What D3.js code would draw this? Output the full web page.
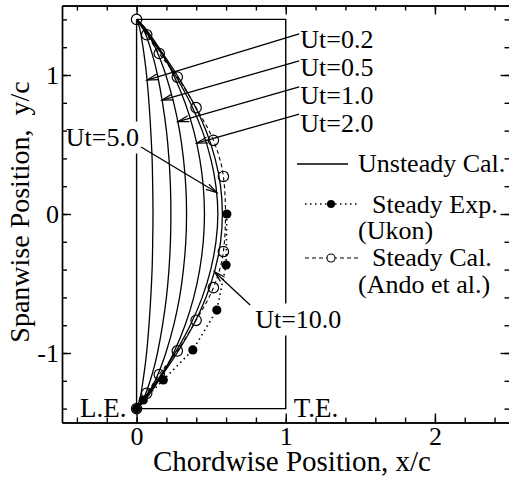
<!DOCTYPE html>
<html>
<head>
<meta charset="utf-8">
<script src="https://cdn.jsdelivr.net/npm/d3@7"></script>
<style>
  body { margin: 0; background: #fff; }
  text { font-family: "Liberation Serif", "Times New Roman", serif; fill: #000; }
</style>
</head>
<body>
<div id="chart-area"></div>
<script>
// spanwise stations (y/c) for the unsteady tip-vortex lines
const spanY = [1.4, 1.35, 1.3, 1.2, 1.1, 1.0, 0.8, 0.6, 0.4, 0.2, 0, -0.2, -0.4, -0.6, -0.8, -1.0, -1.1, -1.2, -1.3, -1.35, -1.4];

// chordwise position x/c of each unsteady line
const xUt02 = [0, 0.017, 0.028, 0.043, 0.056, 0.067, 0.083, 0.095, 0.104, 0.108, 0.110, 0.108, 0.104, 0.095, 0.083, 0.067, 0.056, 0.043, 0.028, 0.017, 0];
const xUt05 = [0, 0.036, 0.058, 0.091, 0.118, 0.140, 0.174, 0.200, 0.217, 0.227, 0.230, 0.227, 0.217, 0.200, 0.174, 0.140, 0.118, 0.091, 0.058, 0.036, 0];
const xUt10 = [0, 0.046, 0.076, 0.124, 0.163, 0.196, 0.249, 0.288, 0.314, 0.330, 0.335, 0.330, 0.314, 0.288, 0.249, 0.196, 0.163, 0.124, 0.076, 0.046, 0];
const xUt20 = [0, 0.048, 0.084, 0.147, 0.201, 0.248, 0.325, 0.383, 0.423, 0.447, 0.455, 0.447, 0.423, 0.383, 0.325, 0.248, 0.201, 0.147, 0.084, 0.048, 0];
const xUt50 = [0, 0.034, 0.068, 0.136, 0.200, 0.258, 0.360, 0.440, 0.497, 0.532, 0.545, 0.532, 0.497, 0.440, 0.360, 0.258, 0.200, 0.136, 0.068, 0.034, 0];
const xUt100 = [0, 0.035, 0.072, 0.143, 0.210, 0.271, 0.380, 0.465, 0.526, 0.563, 0.575, 0.563, 0.526, 0.465, 0.380, 0.271, 0.210, 0.143, 0.072, 0.035, 0];

// steady calculation (Ando et al.)
const steadyCalX = [0, 0.068, 0.152, 0.273, 0.399, 0.515, 0.582, 0.582, 0.515, 0.399, 0.273, 0.152, 0.068, 0];
const steadyCalY = [1.4, 1.29, 1.155, 0.985, 0.765, 0.53, 0.27, -0.27, -0.53, -0.765, -0.985, -1.155, -1.29, -1.4];

// steady experiment (Ukon)
const steadyExpX = [0.605, 0.600, 0.538, 0.377, 0.179, 0.045, 0];
const steadyExpY = [0, -0.367, -0.691, -0.978, -1.194, -1.338, -1.4];

// wing planform outline
const planX = [0, 1, 1, 0, 0];
const planY = [1.4, 1.4, -1.4, -1.4, 1.4];

// label anchor, arrow tail and arrow tip for each Ut line (x/c, y/c)
const annotations = [
  { text: "Ut=0.2", lx: 1.097, ly: 1.194, anchor: "start", tx: 1.09, ty: 1.295, hx: 0.070, hy: 0.964 },
  { text: "Ut=0.5", lx: 1.097, ly: 0.993, anchor: "start", tx: 1.09, ty: 1.101, hx: 0.171, hy: 0.820 },
  { text: "Ut=1.0", lx: 1.097, ly: 0.791, anchor: "start", tx: 1.09, ty: 0.914, hx: 0.277, hy: 0.664 },
  { text: "Ut=2.0", lx: 1.097, ly: 0.590, anchor: "start", tx: 1.09, ty: 0.719, hx: 0.403, hy: 0.510 },
  { text: "Ut=5.0", lx: 0.016, ly: 0.489, anchor: "end", tx: 0.030, ty: 0.482, hx: 0.538, hy: 0.155 },
  { text: "Ut=10.0", lx: 0.795, ly: -0.820, anchor: "start", tx: 0.761, ty: -0.655, hx: 0.522, hy: -0.415 }
];

const width = 509, height = 479;

const svg = d3.select("#chart-area").append("svg")
    .attr("width", width)
    .attr("height", height);

const x = d3.scaleLinear().domain([-0.5, 2.5]).range([62, 509.5]);
const y = d3.scaleLinear().domain([-1.5, 1.5]).range([422.5, 5.5]);

const line = d3.line()
    .x((d) => x(d[0]))
    .y((d) => y(d[1]));

const smooth = d3.line()
    .x((d) => x(d[0]))
    .y((d) => y(d[1]))
    .curve(d3.curveCatmullRom);

// open arrowhead
svg.append("defs").append("marker")
    .attr("id", "head")
    .attr("viewBox", "-12 -5 14 10")
    .attr("refX", 0).attr("refY", 0)
    .attr("markerWidth", 14).attr("markerHeight", 10)
    .attr("markerUnits", "userSpaceOnUse")
    .attr("orient", "auto")
  .append("path")
    .attr("d", "M-11,-3L0,0L-11,3")
    .attr("fill", "none")
    .attr("stroke", "#000")
    .attr("stroke-width", 1.2);

// planform
svg.append("path")
    .attr("d", line(planX.map((d, i) => [d, planY[i]])))
    .attr("fill", "none")
    .attr("stroke", "#000")
    .attr("stroke-width", 1.4);

// unsteady lines
const unsteady = [xUt02, xUt05, xUt10, xUt20, xUt50, xUt100];
svg.selectAll(".unsteady")
    .data(unsteady)
    .enter()
    .append("path")
    .attr("class", "unsteady")
    .attr("d", (xs) => smooth(xs.map((d, i) => [d, spanY[i]])))
    .attr("fill", "none")
    .attr("stroke", "#000")
    .attr("stroke-width", 1.3);

// steady calc, dashed
const calPts = steadyCalX.map((d, i) => [d, steadyCalY[i]]);
svg.append("path")
    .attr("d", smooth(calPts))
    .attr("fill", "none")
    .attr("stroke", "#000")
    .attr("stroke-width", 1.1)
    .attr("stroke-dasharray", "4,3");

// steady exp, dotted
const expPts = steadyExpX.map((d, i) => [d, steadyExpY[i]]);
svg.append("path")
    .attr("d", line(expPts))
    .attr("fill", "none")
    .attr("stroke", "#000")
    .attr("stroke-width", 1.6)
    .attr("stroke-dasharray", "1.5,3.5");

svg.selectAll(".exp")
    .data(expPts)
    .enter()
    .append("circle")
    .attr("class", "exp")
    .attr("cx", (d) => x(d[0]))
    .attr("cy", (d) => y(d[1]))
    .attr("r", 4.6)
    .attr("fill", "#000");

svg.selectAll(".cal")
    .data(calPts)
    .enter()
    .append("circle")
    .attr("class", "cal")
    .attr("cx", (d) => x(d[0]))
    .attr("cy", (d) => y(d[1]))
    .attr("r", 5.2)
    .attr("fill", "none")
    .attr("stroke", "#000")
    .attr("stroke-width", 1.2);

// Ut labels with white boxes, then arrows
const labels = svg.selectAll(".ut")
    .data(annotations)
    .enter()
    .append("g")
    .attr("class", "ut");

labels.append("text")
    .attr("x", (d) => x(d.lx))
    .attr("y", (d) => y(d.ly))
    .attr("text-anchor", (d) => d.anchor)
    .attr("font-size", 26)
    .text((d) => d.text);

labels.each(function () {
    const g = d3.select(this);
    const b = g.select("text").node().getBBox();
    g.insert("rect", "text")
        .attr("x", b.x - 1).attr("y", b.y - 1.5)
        .attr("width", b.width + 2).attr("height", b.height + 3)
        .attr("fill", "#fff");
});

svg.selectAll(".arrow")
    .data(annotations)
    .enter()
    .append("line")
    .attr("class", "arrow")
    .attr("x1", (d) => x(d.tx))
    .attr("y1", (d) => y(d.ty))
    .attr("x2", (d) => x(d.hx))
    .attr("y2", (d) => y(d.hy))
    .attr("stroke", "#000")
    .attr("stroke-width", 1.3)
    .attr("marker-end", "url(#head)");

// L.E. / T.E. marks
svg.append("text")
    .attr("x", x(0) - 10).attr("y", y(-1.4) + 8)
    .attr("text-anchor", "end")
    .attr("font-size", 27)
    .text("L.E.");
svg.append("text")
    .attr("x", x(1) + 8).attr("y", y(-1.4) + 8)
    .attr("font-size", 27)
    .text("T.E.");

// legend
const leg = svg.append("g");
leg.append("line").attr("x1", 297).attr("x2", 348).attr("y1", 164).attr("y2", 164)
    .attr("stroke", "#000").attr("stroke-width", 1.3);
leg.append("text").attr("x", 358).attr("y", 172).attr("font-size", 26).text("Unsteady Cal.");

leg.append("line").attr("x1", 305).attr("x2", 358).attr("y1", 204).attr("y2", 204)
    .attr("stroke", "#000").attr("stroke-width", 1.3).attr("stroke-dasharray", "1.5,3.5");
leg.append("circle").attr("cx", 331).attr("cy", 204).attr("r", 4).attr("fill", "#000");
leg.append("text").attr("x", 372).attr("y", 213).attr("font-size", 26).text("Steady Exp.");
leg.append("text").attr("x", 358).attr("y", 239).attr("font-size", 26).text("(Ukon)");

leg.append("line").attr("x1", 305).attr("x2", 358).attr("y1", 258).attr("y2", 258)
    .attr("stroke", "#000").attr("stroke-width", 1.1).attr("stroke-dasharray", "4,3");
leg.append("circle").attr("cx", 331).attr("cy", 258).attr("r", 4).attr("fill", "#fff")
    .attr("stroke", "#000").attr("stroke-width", 1.1);
leg.append("text").attr("x", 372).attr("y", 266).attr("font-size", 26).text("Steady Cal.");
leg.append("text").attr("x", 358).attr("y", 293).attr("font-size", 26).text("(Ando et al.)");

// axes: ticks point inward on all four sides
const xMinor = d3.range(-0.4, 2.5, 0.2).map((d) => +d.toFixed(1));
const yMinor = d3.range(-1.4, 1.5, 0.2).map((d) => +d.toFixed(1));
const xMajor = [0, 1, 2];
const yMajor = [-1, 0, 1];

function styleAxis(g) {
    g.selectAll("path, line").attr("stroke", "#000").attr("stroke-width", 1.4);
    g.selectAll("text").attr("font-size", 26)
        .attr("font-family", "Liberation Serif, Times New Roman, serif").attr("fill", "#000");
}

svg.append("g").attr("transform", `translate(0,${y(-1.5)})`)
    .call(d3.axisBottom(x).tickValues(xMinor).tickSize(-5).tickSizeOuter(0).tickFormat(""))
    .call(styleAxis);
svg.append("g").attr("transform", `translate(0,${y(-1.5)})`)
    .call(d3.axisBottom(x).tickValues(xMajor).tickSize(-9).tickSizeOuter(0).tickPadding(4)
        .tickFormat((d) => String(d)))
    .call(styleAxis);

svg.append("g").attr("transform", `translate(0,${y(1.5)})`)
    .call(d3.axisTop(x).tickValues(xMinor).tickSize(-5).tickSizeOuter(0).tickFormat(""))
    .call(styleAxis);
svg.append("g").attr("transform", `translate(0,${y(1.5)})`)
    .call(d3.axisTop(x).tickValues(xMajor).tickSize(-9).tickSizeOuter(0).tickFormat(""))
    .call(styleAxis);

svg.append("g").attr("transform", `translate(${x(-0.5)},0)`)
    .call(d3.axisLeft(y).tickValues(yMinor).tickSize(-5).tickSizeOuter(0).tickFormat(""))
    .call(styleAxis);
svg.append("g").attr("transform", `translate(${x(-0.5)},0)`)
    .call(d3.axisLeft(y).tickValues(yMajor).tickSize(-9).tickSizeOuter(0).tickPadding(3)
        .tickFormat((d) => String(d)))
    .call(styleAxis);

svg.append("g").attr("transform", `translate(${x(2.5)},0)`)
    .call(d3.axisRight(y).tickValues(yMinor).tickSize(-5).tickSizeOuter(0).tickFormat(""))
    .call(styleAxis);
svg.append("g").attr("transform", `translate(${x(2.5)},0)`)
    .call(d3.axisRight(y).tickValues(yMajor).tickSize(-9).tickSizeOuter(0).tickFormat(""))
    .call(styleAxis);

// axis titles
svg.append("text")
    .attr("x", 292).attr("y", 471)
    .attr("text-anchor", "middle")
    .attr("font-size", 29)
    .text("Chordwise Position, x/c");

svg.append("text")
    .attr("transform", `translate(29,${y(0) - 2}) rotate(-90)`)
    .attr("text-anchor", "middle")
    .attr("font-size", 28)
    .attr("xml:space", "preserve")
    .text("Spanwise Position,  y/c");
</script>
</body>
</html>
